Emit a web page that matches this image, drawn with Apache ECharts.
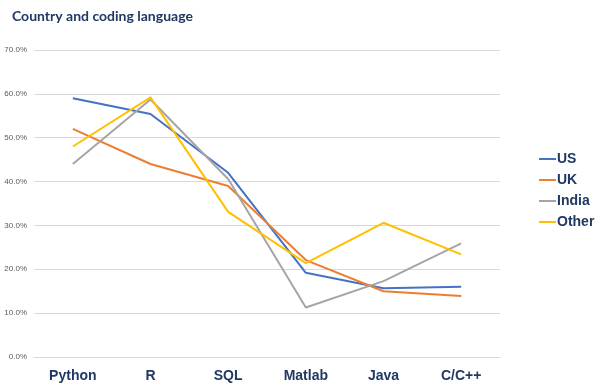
<!DOCTYPE html>
<html><head><meta charset="utf-8">
<script src="https://cdn.jsdelivr.net/npm/echarts@6/dist/echarts.min.js"></script>
<style>html,body{margin:0;padding:0;background:#fff}#c{width:600px;height:386px}</style>
</head><body><div id="c"></div>
<script>
var categories = ['Python','R','SQL','Matlab','Java','C/C++'];
var us    = [59.0, 55.4, 42.0, 19.2, 15.7, 16.0];
var uk    = [52.0, 44.0, 39.0, 22.1, 15.0, 13.9];
var india = [44.0, 58.7, 40.6, 11.3, 17.3, 25.9];
var other = [48.0, 59.2, 33.1, 21.4, 30.6, 23.4];
var seriesNames = ['US','UK','India','Other'];
var colors = ['#4472C4','#ED7D31','#A5A5A5','#FFC000'];
var navy = '#1F3864';
var chart = echarts.init(document.getElementById('c'), null, {renderer:'canvas'});
var data = [us, uk, india, other];
chart.setOption({
  animation:false,
  title:{text:'Country and coding language', left:7, top:4,
    textStyle:{fontFamily:'Lato', fontWeight:'bold', fontSize:14, color:navy}},
  legend:{orient:'vertical', left:534, top:147, itemGap:7, itemWidth:17, itemHeight:2, icon:'rect',
    textStyle:{fontFamily:'Liberation Sans', fontWeight:'bold', fontSize:14, color:navy, padding:[0,0,0,-4]},
    data:seriesNames},
  grid:{left:34, right:100, top:50, bottom:29, containLabel:false},
  xAxis:{type:'category', data:categories, boundaryGap:true,
    axisLine:{lineStyle:{color:'#d9d9d9'}}, axisTick:{show:false},
    axisLabel:{fontFamily:'Liberation Sans', fontWeight:'bold', fontSize:14, color:navy, margin:12}},
  yAxis:{type:'value', min:0, max:70, interval:10,
    axisLine:{show:false}, axisTick:{show:false},
    splitLine:{lineStyle:{color:'#d9d9d9'}},
    axisLabel:{fontFamily:'Liberation Sans', fontSize:8, color:'#595959', margin:7,
      formatter:function(v){return v.toFixed(1)+'%';}}},
  series: seriesNames.map(function(n,i){
    return {name:n, type:'line', data:data[i], symbol:'none', color:colors[i],
      lineStyle:{width:2, color:colors[i]}, itemStyle:{color:colors[i]}};
  })
});
</script></body></html>
